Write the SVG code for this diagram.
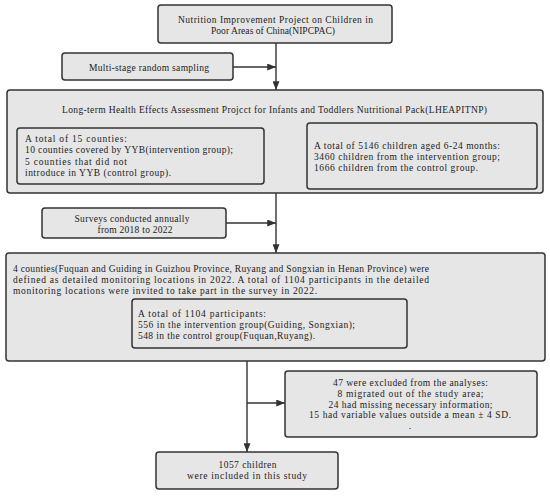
<svg xmlns="http://www.w3.org/2000/svg" width="550" height="496" viewBox="0 0 550 496">
<style>
.box{fill:#e6e6e6;stroke:#333;stroke-width:1.5}
.t{font-family:"Liberation Serif","DejaVu Serif",serif;font-size:9.5px;fill:#222}
.c{text-anchor:middle}
.ln{stroke:#333;stroke-width:1.4;fill:none}
</style>
<defs>
<marker id="ah" viewBox="0 0 10 8" refX="10" refY="4" markerWidth="9" markerHeight="7" markerUnits="userSpaceOnUse" orient="auto-start-reverse">
<path d="M0,0 L10,4 L0,8 Z" fill="#333"/>
</marker>
</defs>
<rect width="550" height="496" fill="#fff"/>
<g id="connectors">
<line class="ln" x1="276" y1="43" x2="276" y2="90" marker-end="url(#ah)"/>
<line class="ln" x1="233" y1="67" x2="276" y2="67" marker-end="url(#ah)"/>
<line class="ln" x1="264" y1="156" x2="307" y2="156" marker-start="url(#ah)" marker-end="url(#ah)"/>
<line class="ln" x1="276" y1="193" x2="276" y2="253" marker-end="url(#ah)"/>
<line class="ln" x1="226" y1="223" x2="276" y2="223" marker-end="url(#ah)"/>
<line class="ln" x1="247" y1="361" x2="247" y2="452" marker-end="url(#ah)"/>
<line class="ln" x1="247" y1="403" x2="285" y2="403" marker-end="url(#ah)"/>
</g>
<g id="nipcpac">
<rect class="box" x="158" y="5" width="234" height="38" rx="3"/>
<text class="t c" x="275.5" y="23" textLength="195" lengthAdjust="spacing">Nutrition Improvement Project on Children in</text>
<text class="t c" x="273" y="34" textLength="124" lengthAdjust="spacing">Poor Areas of China(NIPCPAC)</text>
</g>
<g id="sampling">
<rect class="box" x="62" y="53" width="171" height="27" rx="3"/>
<text class="t c" x="149" y="71" textLength="120" lengthAdjust="spacing">Multi-stage random sampling</text>
</g>
<g id="lheapitnp">
<rect class="box" x="7" y="90" width="536" height="103" rx="3"/>
<text class="t c" x="274.5" y="113" textLength="425" lengthAdjust="spacing">Long-term Health Effects Assessment Projcct for Infants and Toddlers Nutritional Pack(LHEAPITNP)</text>
</g>
<g id="counties">
<rect class="box" x="17" y="128" width="247" height="56" rx="3"/>
<text class="t" x="25" y="142" textLength="102" lengthAdjust="spacing">A total of 15 counties:</text>
<text class="t" x="25" y="153" textLength="208" lengthAdjust="spacing">10 counties covered by YYB(intervention group);</text>
<text class="t" x="25" y="165" textLength="102" lengthAdjust="spacing">5 counties that did not</text>
<text class="t" x="25" y="176" textLength="146" lengthAdjust="spacing">introduce in YYB (control group).</text>
</g>
<g id="children">
<rect class="box" x="307" y="123" width="230" height="66" rx="3"/>
<text class="t" x="314" y="149" textLength="186" lengthAdjust="spacing">A total of 5146 children aged 6-24 months:</text>
<text class="t" x="314" y="160" textLength="186" lengthAdjust="spacing">3460 children from the intervention group;</text>
<text class="t" x="314" y="171" textLength="164" lengthAdjust="spacing">1666 children from the control group.</text>
</g>
<g id="surveys">
<rect class="box" x="42" y="208" width="184" height="30" rx="3"/>
<text class="t c" x="132" y="222" textLength="115" lengthAdjust="spacing">Surveys conducted annually</text>
<text class="t c" x="135" y="233" textLength="75" lengthAdjust="spacing">from 2018 to 2022</text>
</g>
<g id="monitoring">
<rect class="box" x="6" y="253" width="539" height="108" rx="3"/>
<text class="t" x="13" y="272" textLength="416" lengthAdjust="spacing">4 counties(Fuquan and Guiding in Guizhou Province, Ruyang and Songxian in Henan Province) were</text>
<text class="t" x="13" y="283" textLength="416" lengthAdjust="spacing">defined as detailed monitoring locations in 2022. A total of 1104 participants in the detailed</text>
<text class="t" x="13" y="294" textLength="304" lengthAdjust="spacing">monitoring locations were invited to take part in the survey in 2022.</text>
</g>
<g id="participants">
<rect class="box" x="132" y="299" width="275" height="49" rx="3"/>
<text class="t" x="138" y="317" textLength="128" lengthAdjust="spacing">A total of 1104 participants:</text>
<text class="t" x="138" y="328" textLength="217" lengthAdjust="spacing">556 in the intervention group(Guiding, Songxian);</text>
<text class="t" x="138" y="339" textLength="177" lengthAdjust="spacing">548 in the control group(Fuquan,Ruyang).</text>
</g>
<g id="excluded">
<rect class="box" x="285" y="371" width="252" height="66" rx="3"/>
<text class="t c" x="410.5" y="386" textLength="155" lengthAdjust="spacing">47 were excluded from the analyses:</text>
<text class="t c" x="410.5" y="397" textLength="146" lengthAdjust="spacing">8 migrated out of the study area;</text>
<text class="t c" x="410.5" y="408" textLength="164" lengthAdjust="spacing">24 had missing necessary information;</text>
<text class="t c" x="410" y="418" textLength="202" lengthAdjust="spacing">15 had variable values outside a mean ± 4 SD.</text>
<text class="t c" x="410" y="429">.</text>
</g>
<g id="included">
<rect class="box" x="156" y="452" width="182" height="37" rx="3"/>
<text class="t c" x="247.5" y="468" textLength="58" lengthAdjust="spacing">1057 children</text>
<text class="t c" x="247" y="479" textLength="120" lengthAdjust="spacing">were included in this study</text>
</g>
</svg>
